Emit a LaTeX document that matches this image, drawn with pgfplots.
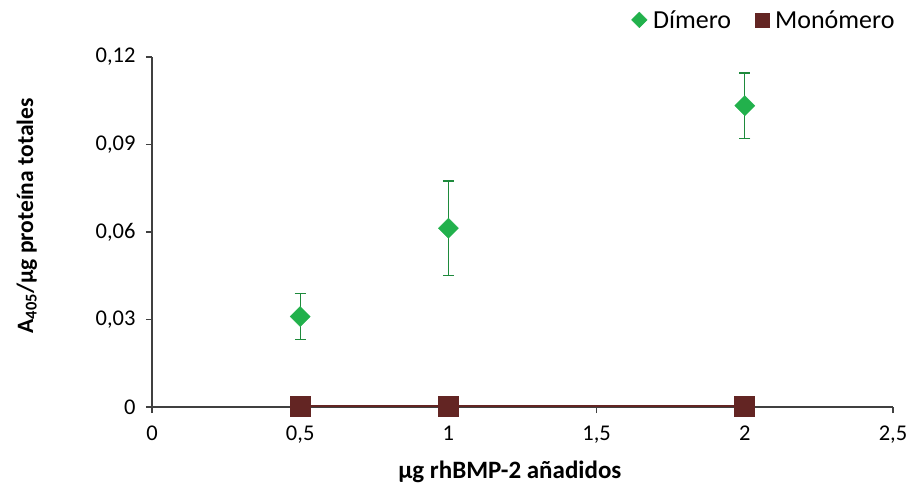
\documentclass[border=0pt]{standalone}
\usepackage{pgfplots}
\pgfplotsset{compat=1.18}
\usepackage{fontspec}
\setmainfont{Carlito}
\definecolor{dgreen}{HTML}{22B14C}
\definecolor{egreen}{HTML}{1E8A3C}
\definecolor{dred}{HTML}{632523}
\definecolor{axgray}{HTML}{404040}
\begin{document}
\begin{tikzpicture}
\path[use as bounding box] (-152bp,-81bp) rectangle (756bp,407bp);
\begin{axis}[
  at={(0,0)}, anchor=south west,
  scale only axis, width=741bp, height=350bp,
  xmin=0, xmax=2.5, ymin=0, ymax=0.12,
  axis lines*=left,
  axis line style={axgray, line width=1.2bp},
  tick style={axgray, line width=1.2bp},
  tick align=outside, major tick length=6bp,
  xtick={0,0.5,1,1.5,2,2.5},
  xticklabels={0,{0,5},1,{1,5},2,{2,5}},
  ytick={0,0.03,0.06,0.09,0.12},
  yticklabels={0,{0,03},{0,06},{0,09},{0,12}},
  ticklabel style={font=\fontsize{22.5bp}{26bp}\selectfont, text=black},
  xticklabel style={yshift=-9bp},
  yticklabel style={xshift=-7bp},
  xlabel={µg rhBMP-2 añadidos},
  ylabel={A\textsubscript{405}/µg proteína totales},
  xlabel style={font=\bfseries\fontsize{25bp}{28bp}\selectfont, at={(axis description cs:0.483,-0.186)}, anchor=center},
  ylabel style={font=\bfseries\fontsize{23.5bp}{27bp}\selectfont, at={(axis description cs:-0.169,0.546)}, anchor=center},
  clip=false,
  legend style={at={(axis description cs:1.009,1.106)}, anchor=east, draw=none, fill=none,
    font=\fontsize{26bp}{30bp}\selectfont, legend columns=2,
    /tikz/every odd column/.append style={column sep=4bp},
    /tikz/every even column/.append style={column sep=22bp}},
  legend cell align=left,
]
\addplot[only marks, mark=square*, mark size=7.1bp, mark options={rotate=45}, color=dgreen,
  forget plot,
  error bars/.cd, y dir=both, y explicit,
  error bar style={color=egreen, line width=1.3bp},
  error mark options={rotate=90, mark size=5.5bp, color=egreen, line width=1.3bp}]
  coordinates {
    (0.5,0.0310) +- (0,0.0078)
    (1,0.0613) +- (0,0.0162)
    (2,0.1033) +- (0,0.0112)
  };
\addlegendimage{only marks, mark=square*, mark size=5.5bp, mark options={rotate=45}, color=dgreen}
\addlegendentry{Dímero}
\addplot[color=dred, line width=2bp, mark=square*, mark size=9.5bp,
  mark options={fill=dred, draw=dred}, forget plot]
  coordinates {
    (0.5,0.0002)
    (1,0.0002)
    (2,0.0002)
  };
\addlegendimage{only marks, mark=square*, mark size=7bp, color=dred, fill=dred}
\addlegendentry{Monómero}
\end{axis}
\end{tikzpicture}
\end{document}
